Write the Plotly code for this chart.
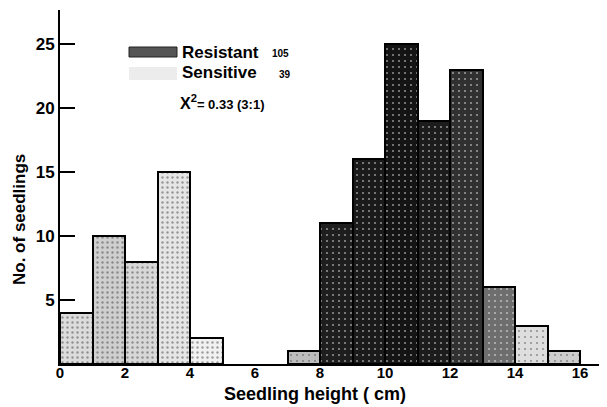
import plotly.graph_objects as go

# ---- data ----
sens_left = [0, 1, 2, 3, 4]
sens_counts = [4, 10, 8, 15, 2]
res_left = [7, 8, 9, 10, 11, 12, 13, 14, 15]
res_counts = [1, 11, 16, 25, 19, 23, 6, 3, 1]
x_ticks = [0, 2, 4, 6, 8, 10, 12, 14, 16]
y_ticks = [5, 10, 15, 20, 25]
n_res = 105
n_sens = 39
chi2_text = "0.33 (3:1)"

# ---- styles ----
sens_bg = ["#dcdcdc", "#cfcfcf", "#d8d8d8", "#e6e6e6", "#f1f1f1"]
sens_fg = ["#444", "#333", "#444", "#555", "#777"]
res_bg = ["#bdbdbd", "#1e1e1e", "#1a1a1a", "#141414", "#1c1c1c", "#303030", "#6e6e6e", "#dedede", "#cdcdcd"]
res_fg = ["#eee", "#8a8a8a", "#8a8a8a", "#808080", "#8a8a8a", "#999", "#ccc", "#888", "#888"]

FONT = "Liberation Sans, Arial, sans-serif"

fig = go.Figure()
fig.add_trace(go.Bar(
    x=sens_left, y=sens_counts, width=1, offset=0, name="Sensitive",
    marker=dict(color=sens_bg, line=dict(color="black", width=2),
                pattern=dict(shape=".", bgcolor=sens_bg, fgcolor=sens_fg,
                             size=5, solidity=0.18)),
    showlegend=False,
))
fig.add_trace(go.Bar(
    x=res_left, y=res_counts, width=1, offset=0, name="Resistant",
    marker=dict(color=res_bg, line=dict(color="black", width=2),
                pattern=dict(shape=".", bgcolor=res_bg, fgcolor=res_fg,
                             size=6, solidity=0.1)),
    showlegend=False,
))

# page has an 8px body margin: figure starts at (8, 8) of the window
OFF = 8
W, H = 607 - OFF, 407 - OFF
# plot area in window pixels: x 60..605, y 10..364
PX0, PX1, PY0, PY1 = 60, 605, 10, 364
L, R, T, B = PX0 - OFF, W - (PX1 - OFF), PY0 - OFF, H - (PY1 - OFF)
pw, ph = PX1 - PX0, PY1 - PY0

def px(xp):
    return (xp - PX0) / pw

def py(yp):
    return (PY1 - yp) / ph

# legend patches
fig.add_shape(type="rect", xref="paper", yref="paper",
              x0=px(129), x1=px(177), y0=py(57), y1=py(47),
              fillcolor="#555555", line=dict(color="#222", width=1))
fig.add_shape(type="rect", xref="paper", yref="paper",
              x0=px(129), x1=px(177), y0=py(80), y1=py(67),
              fillcolor="#ececec", line=dict(width=0))

def ann(text, x, y, size, **kw):
    fig.add_annotation(text=text, xref="paper", yref="paper", x=px(x), y=py(y),
                       showarrow=False, font=dict(family=FONT, size=size, color="black", weight="bold"),
                       **kw)

ann("Resistant", 180, 52, 17, xanchor="left", yanchor="middle")
ann(str(n_res), 270, 53, 10, xanchor="left", yanchor="middle")
ann("Sensitive", 180, 73, 17, xanchor="left", yanchor="middle")
ann(str(n_sens), 277, 74, 10, xanchor="left", yanchor="middle")
ann("X<sup>2</sup><span style='font-size:13px'>= " + chi2_text + "</span>", 178, 102, 16,
    xanchor="left", yanchor="middle")

# axis titles
ann("No. of seedlings", 19, 220, 17, textangle=-90, xanchor="center", yanchor="middle")
ann("Seedling height ( cm)", 315, 394, 18, xanchor="center", yanchor="middle")

fig.update_layout(
    width=W, height=H,
    margin=dict(l=L, r=R, t=T, b=B),
    plot_bgcolor="white", paper_bgcolor="white",
    bargap=0,
    font=dict(family=FONT, color="black"),
)
fig.update_xaxes(
    range=[0, pw / 32.5], tickvals=x_ticks, ticktext=[str(v) for v in x_ticks],
    showgrid=False, zeroline=False, showline=True, linecolor="black", linewidth=2,
    ticks="", ticklabelstandoff=-6, tickfont=dict(size=15, family=FONT, weight="bold"),
)
fig.update_yaxes(
    range=[0, ph / 12.8], tickvals=y_ticks, ticktext=[str(v) for v in y_ticks],
    showgrid=False, zeroline=False, showline=True, linecolor="black", linewidth=2,
    ticks="inside", ticklen=15, tickwidth=2, tickcolor="black",
    tickfont=dict(size=17, family=FONT, weight="bold"),
)

fig.write_html("out.html")
